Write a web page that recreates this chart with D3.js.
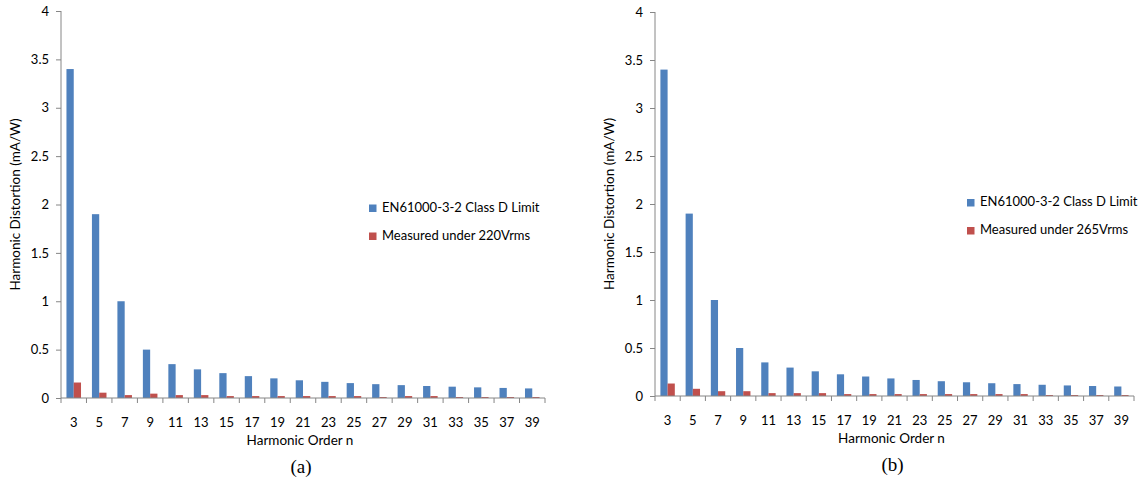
<!DOCTYPE html>
<html>
<head>
<meta charset="utf-8">
<script src="https://cdn.jsdelivr.net/npm/d3@7"></script>
<style>
  html, body { margin: 0; padding: 0; background: #fff; }
  svg { display: block; }
</style>
</head>
<body>
<svg id="chart" width="1139" height="485"></svg>
<script>
// Harmonic orders on the x axis
const harmonicOrders = [3, 5, 7, 9, 11, 13, 15, 17, 19, 21, 23, 25, 27, 29, 31, 33, 35, 37, 39];

// EN61000-3-2 Class D limits (mA/W)
const classDLimit = [3.4, 1.9, 1.0, 0.5, 0.35, 0.296, 0.257, 0.226, 0.203, 0.183, 0.167, 0.154,
                     0.143, 0.133, 0.124, 0.117, 0.110, 0.104, 0.099];

// Measured harmonic current at 220 Vrms (mA/W)
const measured220 = [0.16, 0.055, 0.03, 0.045, 0.03, 0.03, 0.02, 0.02, 0.02, 0.02, 0.02, 0.02,
                     0.01, 0.02, 0.02, 0.01, 0.01, 0.01, 0.01];

// Measured harmonic current at 265 Vrms (mA/W)
const measured265 = [0.13, 0.075, 0.05, 0.05, 0.03, 0.03, 0.03, 0.02, 0.02, 0.02, 0.02, 0.02,
                     0.02, 0.02, 0.02, 0.01, 0.01, 0.01, 0.01];

const yTicks = [0, 0.5, 1, 1.5, 2, 2.5, 3, 3.5, 4];
const seriesNames = ["limit", "measured"];
const legendLimit = "EN61000-3-2 Class D Limit";
const yTitle = "Harmonic Distortion (mA/W)";
const xTitle = "Harmonic Order n";

const colors = { limit: "#4F81BD", measured: "#C0504D" };
const axisColor = "#868686";
const font = 'Lato, "Open Sans", sans-serif';

const svg = d3.select("#chart");

function drawPanel(p) {
  const g = svg.append("g");

  const x = d3.scaleBand().domain(harmonicOrders).range([p.left, p.right]).paddingInner(0).paddingOuter(0);
  const xs = d3.scaleBand().domain(seriesNames).range([0, x.bandwidth()])
    .paddingInner(0).paddingOuter(0.75);
  const y = d3.scaleLinear().domain([0, 4]).range([p.bottom, p.top]);

  const rows = harmonicOrders.map((n, i) => ({ n, limit: classDLimit[i], measured: p.measured[i] }));

  // bars
  const grp = g.append("g").selectAll("g").data(rows).join("g")
    .attr("transform", d => `translate(${x(d.n)},0)`);
  grp.selectAll("rect").data(d => seriesNames.map(k => ({ k, v: d[k] }))).join("rect")
    .attr("x", d => xs(d.k))
    .attr("width", xs.bandwidth())
    .attr("y", d => y(d.v))
    .attr("height", d => y(0) - y(d.v))
    .attr("fill", d => colors[d.k]);

  // y axis
  const yAxis = g.append("g").attr("transform", `translate(${p.left},0)`)
    .call(d3.axisLeft(y).tickValues(yTicks).tickSize(5).tickPadding(7).tickFormat(d3.format("")));
  yAxis.select(".domain").attr("stroke", axisColor).attr("d", `M0,${p.top}V${p.bottom}`);
  yAxis.selectAll(".tick line").attr("stroke", axisColor);
  yAxis.selectAll(".tick text").attr("font-size", 13).attr("fill", "#000").attr("font-family", font);

  // x axis with ticks between categories
  const xAxis = g.append("g").attr("transform", `translate(0,${p.bottom})`)
    .call(d3.axisBottom(x).tickSize(0).tickPadding(20));
  xAxis.select(".domain").attr("stroke", axisColor).attr("d", `M${p.left},0H${p.right}`);
  xAxis.selectAll(".tick text").attr("font-size", 13).attr("fill", "#000").attr("font-family", font);
  const bounds = harmonicOrders.map(n => x(n)).concat([p.right]);
  xAxis.selectAll("line.sep").data(bounds).join("line").attr("class", "sep")
    .attr("x1", d => d).attr("x2", d => d).attr("y1", 0).attr("y2", 5)
    .attr("stroke", axisColor);

  // axis titles
  g.append("text")
    .attr("transform", `translate(${p.yTitleX},${(p.top + p.bottom) / 2}) rotate(-90)`)
    .attr("text-anchor", "middle").attr("dominant-baseline", "middle")
    .attr("font-family", font).attr("font-size", 13.5).text(yTitle);
  g.append("text")
    .attr("x", (p.left + p.right) / 2 - 3).attr("y", p.bottom + 47)
    .attr("text-anchor", "middle")
    .attr("font-family", font).attr("font-size", 13.5).text(xTitle);

  // caption
  g.append("text")
    .attr("x", (p.left + p.right) / 2 - 2).attr("y", p.bottom + 75)
    .attr("text-anchor", "middle")
    .attr("font-family", '"Liberation Serif", "Times New Roman", serif').attr("font-size", 19)
    .text(p.caption);

  // legend
  const legendItems = [
    { k: "limit", label: legendLimit },
    { k: "measured", label: p.measuredLabel }
  ];
  const lg = g.append("g").attr("transform", `translate(${p.legendX},${p.legendY})`);
  const li = lg.selectAll("g").data(legendItems).join("g")
    .attr("transform", (d, i) => `translate(0,${i * 28})`);
  li.append("rect").attr("x", 0).attr("y", -4).attr("width", 7.5).attr("height", 7.5)
    .attr("fill", d => colors[d.k]);
  li.append("text").attr("x", 13).attr("y", 0).attr("dominant-baseline", "middle")
    .attr("font-family", font).attr("font-size", 13).attr("fill", "#000")
    .text(d => d.label);
}

drawPanel({
  left: 61, right: 545, top: 11, bottom: 398, yTitleX: 17,
  measured: measured220, measuredLabel: "Measured under 220Vrms",
  legendX: 369, legendY: 208.5, caption: "(a)"
});

drawPanel({
  left: 655, right: 1134, top: 12, bottom: 396, yTitleX: 611,
  measured: measured265, measuredLabel: "Measured under 265Vrms",
  legendX: 967, legendY: 203, caption: "(b)"
});
</script>
</body>
</html>
